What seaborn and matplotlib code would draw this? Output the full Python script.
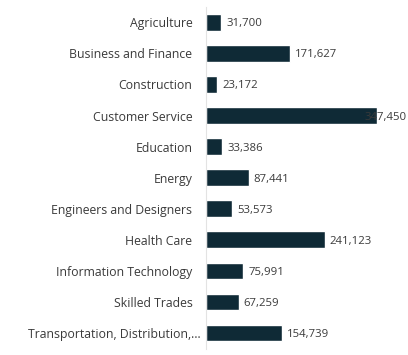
import matplotlib
matplotlib.use("Agg")
import matplotlib.pyplot as plt
import matplotlib.transforms as mtransforms
import seaborn as sns
import pandas as pd

# ----------------------------
# data
# ----------------------------
categories = [
    "Agriculture",
    "Business and Finance",
    "Construction",
    "Customer Service",
    "Education",
    "Energy",
    "Engineers and Designers",
    "Health Care",
    "Information Technology",
    "Skilled Trades",
    "Transportation, Distribution,\u2026",
]
values = [31700, 171627, 23172, 347450, 33386, 87441, 53573, 241123, 75991, 67259, 154739]

df = pd.DataFrame({"Category": categories, "Count": values})

# ----------------------------
# plot
# ----------------------------
sns.set_theme(style="white")
plt.rcParams["font.family"] = ["Open Sans", "DejaVu Sans"]

bar_color = "#0f2a36"
text_color = "#3a3a3a"

fig = plt.figure(figsize=(4.08, 3.55), dpi=100)
ax = fig.add_axes([0.504, 0.018, 0.42, 0.963])

sns.barplot(data=df, x="Count", y="Category", color=bar_color, width=0.54,
            saturation=1, ax=ax)

ax.set_xlim(0, max(values))
ax.set_ylim(len(categories) - 0.5, -0.5)
ax.set_xlabel("")
ax.set_ylabel("")
ax.set_xticks([])

for s in ["top", "right", "bottom"]:
    ax.spines[s].set_visible(False)
ax.spines["left"].set_color("#e3e3e3")
ax.spines["left"].set_linewidth(0.8)

ax.tick_params(axis="y", length=0, pad=9.5, labelsize=8.85, labelcolor=text_color)

# truncated label sits closer to the axis in the original
last = ax.get_yticklabels()[-1]
last.set_transform(last.get_transform() +
                   mtransforms.ScaledTranslation(8 / 100, 0, fig.dpi_scale_trans))

# value labels
for i, v in enumerate(values):
    off = -12 if v == max(values) else 5
    ax.annotate(f"{v:,}", xy=(v, i), xytext=(off, -1.5), textcoords="offset pixels",
                ha="left", va="center", fontsize=8.2, color=text_color,
                annotation_clip=False)

fig.savefig("out.png", dpi=100)
